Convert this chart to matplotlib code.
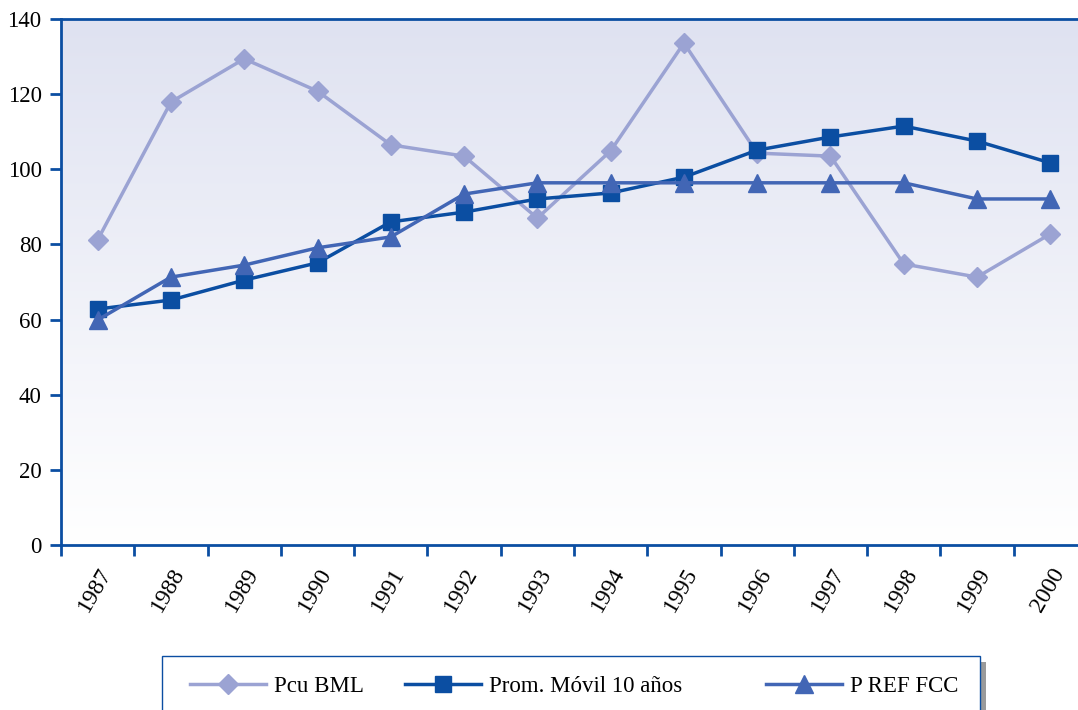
import numpy as np
import matplotlib.pyplot as plt
from matplotlib.patches import Rectangle
from matplotlib.colors import LinearSegmentedColormap
from matplotlib.lines import Line2D

plt.rcParams['font.family'] = ['Liberation Serif', 'DejaVu Serif']

# Data

years = ['1987', '1988', '1989', '1990', '1991', '1992', '1993',
         '1994', '1995', '1996', '1997', '1998', '1999', '2000']
pcu_bml = [81.2, 117.9, 129.4, 120.8, 106.5, 103.5, 87.0,
           104.9, 133.6, 104.3, 103.5, 74.8, 71.3, 82.8]
prom_movil = [62.8, 65.2, 70.5, 75.1, 86.0, 88.6, 92.1,
              93.7, 97.9, 105.1, 108.6, 111.5, 107.5, 101.7]
p_ref_fcc = [59.9, 71.3, 74.5, 79.1, 82.0, 93.4, 96.4,
             96.4, 96.4, 96.4, 96.4, 96.4, 92.1, 92.1]

c_light = '#9ba3d3'
c_dark = '#0b4ea2'
c_mid = '#4266b5'

W, H = 1078, 710
fig = plt.figure(figsize=(W / 100, H / 100), dpi=100)
# axes right edge runs past the image border, as in the original
ax = fig.add_axes([61 / W, (H - 545) / H, (1087 - 61) / W, (545 - 19) / H])

x = np.arange(len(years))

# gradient background
grad = np.linspace(0, 1, 256).reshape(-1, 1)
cmap = LinearSegmentedColormap.from_list('bg', ['#ffffff', '#dfe2f1'])
ax.imshow(grad, cmap=cmap, aspect='auto', origin='lower',
          extent=[-0.5, 13.5, 0, 140], zorder=0)

styles = [
    ('Pcu BML', pcu_bml, c_light, 'D', 10),
    ('Prom. Móvil 10 años', prom_movil, c_dark, 's', 11),
    ('P REF FCC', p_ref_fcc, c_mid, '^', 13),
]
for i, (name, vals, col, mk, ms) in enumerate(styles):
    ax.plot(x, vals, color=col, lw=2.5, marker=mk, ms=ms, label=name, zorder=3 + i)

ax.set_xlim(-0.5, 13.5)
ax.set_ylim(0, 140)
ax.set_yticks(np.arange(0, 141, 20))
ax.set_xticks(x)
ax.set_xticklabels(years, rotation=60, ha='right', rotation_mode='anchor', fontsize=17)
ax.set_xticks(np.arange(-0.5, 13.6, 1), minor=True)
ax.tick_params(axis='x', which='major', length=0, pad=14)
ax.tick_params(axis='x', which='minor', length=8, width=2, color=c_dark)
ax.tick_params(axis='y', length=8, width=2, color=c_dark, labelsize=16.5, pad=6)
for s in ['left', 'bottom', 'top']:
    ax.spines[s].set_color(c_dark)
    ax.spines[s].set_linewidth(2)
ax.spines['right'].set_visible(False)

# legend box with grey shadow
fig.patches.append(Rectangle((980 / W, 0), 6 / W, (710 - 662) / H, transform=fig.transFigure,
                             facecolor='#9a9a9a', edgecolor='none', zorder=1))
fig.patches.append(Rectangle((162 / W, -0.01), (980 - 162) / W, (710 - 656) / H + 0.01,
                             transform=fig.transFigure, facecolor='white',
                             edgecolor=c_dark, lw=1, zorder=2))

# one legend per entry, placed where the original has them
leg_x = [190, 405, 766]
for (name, vals, col, mk, ms), lx in zip(styles, leg_x):
    h = Line2D([], [], color=col, lw=2.5, marker=mk, ms=ms)
    leg = fig.legend([h], [name], loc='center left', bbox_to_anchor=(lx / W, (710 - 686) / H),
                     frameon=False, fontsize=16.5, handlelength=3.3, handletextpad=0.35,
                     borderaxespad=0, borderpad=0)
    leg.set_zorder(3)

fig.savefig('out.png', dpi=100)
